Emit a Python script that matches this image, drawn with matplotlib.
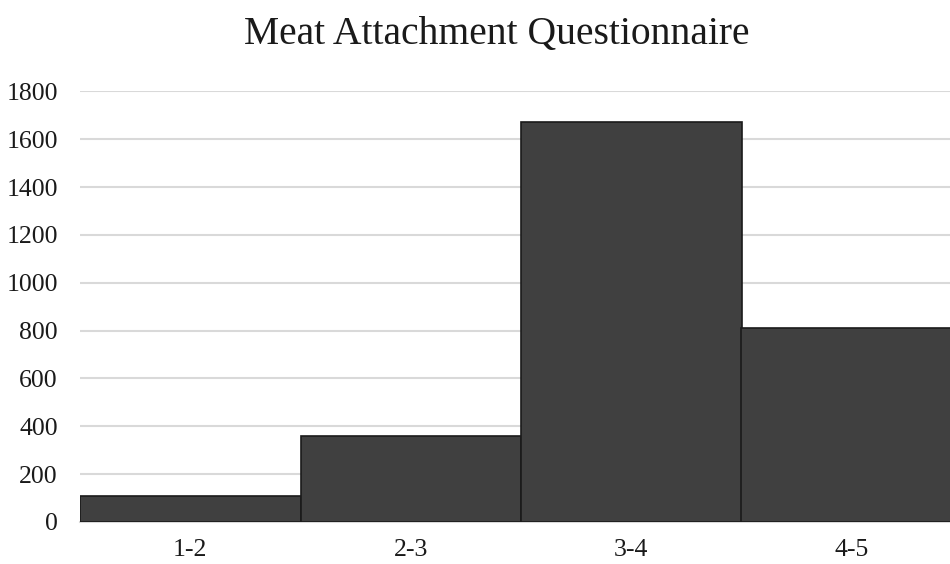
import matplotlib
matplotlib.use("Agg")
import matplotlib.pyplot as plt

# Histogram bins and counts
bins = ["1-2", "2-3", "3-4", "4-5"]
counts = [107, 358, 1673, 809]
yticks = [0, 200, 400, 600, 800, 1000, 1200, 1400, 1600, 1800]
title = "Meat Attachment Questionnaire"

plt.rcParams["font.family"] = ["Liberation Serif", "DejaVu Serif"]

fig = plt.figure(figsize=(9.5, 5.64), dpi=100)
# the original is a crop: the last bar runs past the right edge
ax = fig.add_axes([80 / 950, 42 / 564, 882 / 950, 430.6 / 564])

x = list(range(len(bins)))
ax.bar(x, counts, width=1.0, color="#404040", edgecolor="#1a1a1a", linewidth=1.2, zorder=3)

ax.set_xlim(-0.5, len(bins) - 0.5)
ax.set_ylim(0, 1800)
ax.set_yticks(yticks)
ax.set_xticks(x)
ax.set_xticklabels(bins)
ax.tick_params(axis="both", length=0, labelsize=18.5, colors="#1a1a1a")
ax.tick_params(axis="y", pad=16)
ax.tick_params(axis="x", pad=12)

ax.grid(axis="y", color="#d9d9d9", linewidth=1.5, zorder=0)
for s in ["top", "right", "left"]:
    ax.spines[s].set_visible(False)
ax.spines["bottom"].set_color("#d9d9d9")
ax.spines["bottom"].set_linewidth(1.5)

fig.text(497 / 950, 1 - 34 / 564, title, ha="center", va="center", fontsize=28.5, color="#1a1a1a")

fig.savefig("out.png", dpi=100)
